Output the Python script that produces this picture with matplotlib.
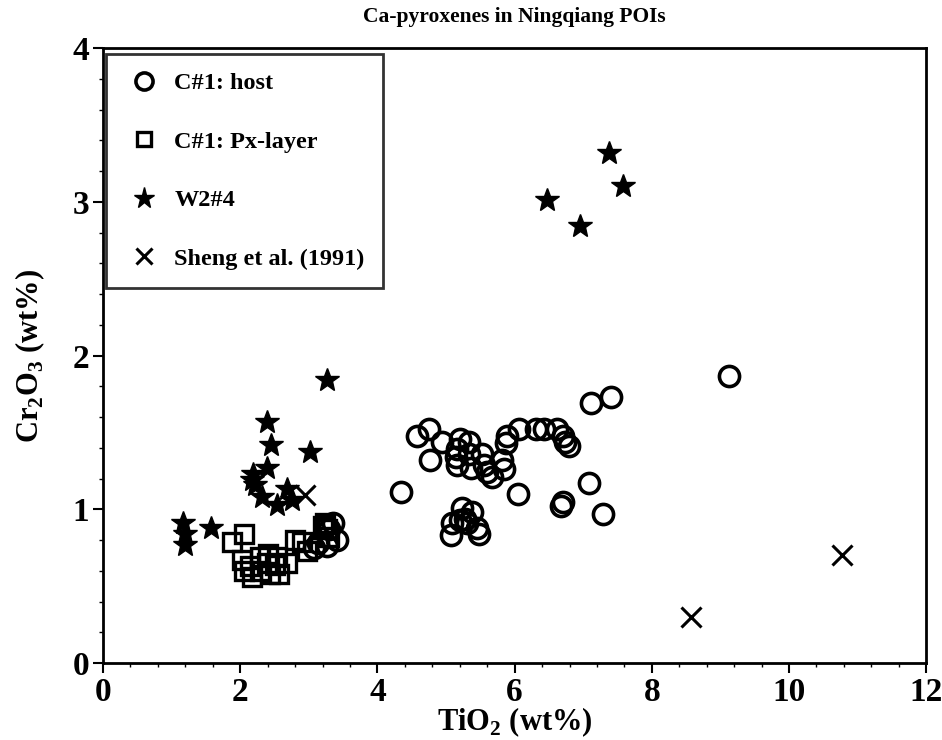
import numpy as np
import matplotlib.pyplot as plt
from matplotlib.ticker import MultipleLocator

plt.rcParams['font.family'] = ['Liberation Serif', 'DejaVu Serif']
plt.rcParams['font.weight'] = 'bold'
plt.rcParams['axes.labelweight'] = 'bold'
plt.rcParams['axes.titleweight'] = 'bold'
plt.rcParams['mathtext.fontset'] = 'custom'
plt.rcParams['mathtext.rm'] = 'Liberation Serif:bold'
plt.rcParams['mathtext.bf'] = 'Liberation Serif:bold'

# C#1: host (TiO2, Cr2O3)
host_ti = [7.11, 7.40, 9.12, 4.58, 4.75, 4.94, 4.77, 4.35, 5.21, 5.34, 5.16, 5.16, 5.14,
           5.33, 5.36, 5.53, 5.55, 5.60, 5.67, 5.82, 5.87, 5.84, 5.89, 6.06, 6.31, 6.43,
           6.62, 6.70, 6.74, 6.79, 6.05, 7.09, 6.70, 6.67, 7.29, 5.24, 5.38, 5.09, 5.07,
           5.28, 5.45, 5.48, 5.31, 5.21, 3.29, 3.26, 3.14, 3.41, 3.36, 3.07]
host_cr = [1.69, 1.73, 1.87, 1.48, 1.52, 1.44, 1.32, 1.11, 1.46, 1.44, 1.39, 1.29, 1.34,
           1.36, 1.27, 1.36, 1.29, 1.24, 1.21, 1.32, 1.43, 1.26, 1.48, 1.52, 1.52, 1.52,
           1.52, 1.48, 1.44, 1.41, 1.10, 1.17, 1.05, 1.02, 0.97, 1.01, 0.98, 0.91, 0.83,
           0.94, 0.88, 0.84, 0.91, 0.93, 0.87, 0.76, 0.78, 0.80, 0.91, 0.75]

# C#1: Px-layer
px_ti = [2.05, 1.88, 2.02, 2.05, 2.17, 2.29, 2.29, 2.44, 2.54, 2.56, 2.68, 2.80, 2.90,
         2.97, 3.24, 3.26, 3.29, 2.39, 2.15, 2.41, 2.51, 3.21]
px_cr = [0.84, 0.79, 0.67, 0.60, 0.56, 0.69, 0.60, 0.58, 0.69, 0.58, 0.65, 0.80, 0.79,
         0.73, 0.91, 0.87, 0.82, 0.65, 0.63, 0.71, 0.64, 0.89]

# W2#4
w2_ti = [6.47, 7.37, 7.58, 6.95, 3.27, 2.39, 2.45, 3.02, 2.39, 2.19, 2.22, 2.17, 2.32,
         2.68, 2.75, 2.54, 1.16, 1.20, 1.19, 1.58]
w2_cr = [3.01, 3.32, 3.10, 2.84, 1.84, 1.57, 1.42, 1.37, 1.27, 1.23, 1.16, 1.19, 1.08,
         1.13, 1.06, 1.03, 0.91, 0.84, 0.77, 0.88]

# Sheng et al. (1991)
sheng_ti = [2.95, 8.57, 10.77]
sheng_cr = [1.09, 0.30, 0.70]

fig = plt.figure(figsize=(9.42, 7.4), dpi=100)
ax = fig.add_axes([0.1093, 0.104, 0.874, 0.831])

ax.plot(host_ti, host_cr, 'o', ms=14.5, mfc='none', mec='black', mew=2.6, label='C#1: host')
ax.plot(px_ti, px_cr, 's', ms=12.5, mfc='none', mec='black', mew=2.4, label='C#1: Px-layer')
ax.plot(w2_ti, w2_cr, '*', ms=18, color='black', label='W2#4')
ax.plot(sheng_ti, sheng_cr, 'x', ms=14, color='black', mew=2.2, label='Sheng et al. (1991)')

ax.set_xlim(0, 12)
ax.set_ylim(0, 4)
ax.xaxis.set_major_locator(MultipleLocator(2))
ax.xaxis.set_minor_locator(MultipleLocator(0.4))
ax.yaxis.set_major_locator(MultipleLocator(1))
ax.yaxis.set_minor_locator(MultipleLocator(0.2))
ax.tick_params(which='major', direction='out', length=7, width=1.5, labelsize=24, pad=3)
ax.tick_params(which='minor', direction='out', length=3, width=1.0)
for s in ax.spines.values():
    s.set_linewidth(2)

ax.set_xlabel(r'TiO$_\mathbf{2}$ (wt%)', fontsize=22, labelpad=-2)
ax.set_ylabel(r'Cr$_\mathbf{2}$O$_\mathbf{3}$ (wt%)', fontsize=22, labelpad=18)
ax.set_title('Ca-pyroxenes in Ningqiang POIs', fontsize=15.5, pad=19)

leg = ax.legend(loc='upper left', bbox_to_anchor=(0.004, 0.99), fontsize=17.5,
                frameon=True, fancybox=False, edgecolor='black', labelspacing=1.5,
                handletextpad=0.45, handlelength=1.6, borderpad=0.75, borderaxespad=0,
                markerscale=0.85)
leg.get_frame().set_linewidth(2)

fig.savefig('out.png', dpi=100)
